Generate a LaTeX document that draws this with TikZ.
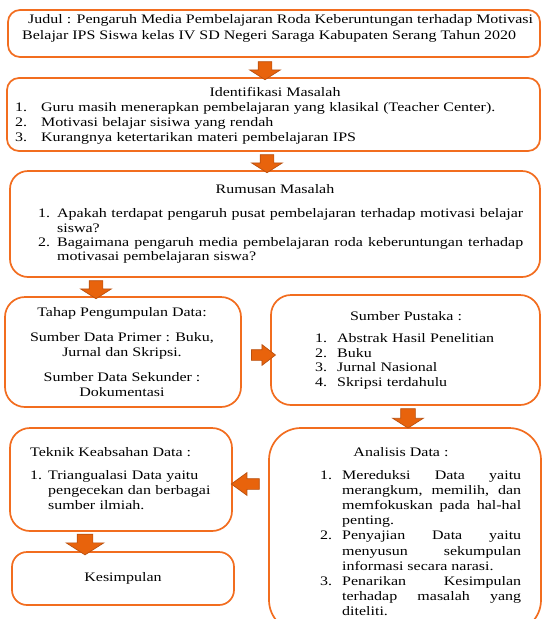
\documentclass[tikz,border=0pt]{standalone}
\usepackage{fontspec}
\setmainfont{Liberation Serif}[FakeStretch=1.23]
\usetikzlibrary{shapes.arrows}
\definecolor{boxline}{HTML}{F26D1F}
\definecolor{arrfill}{HTML}{E8630C}
\definecolor{arrline}{HTML}{B9500F}
\hyphenpenalty=10000
\exhyphenpenalty=10000
\newcommand\li[3]{\par\lineskip=0pt\noindent\makebox[#1][l]{\strut#2}%
  \parbox[t]{\dimexpr\hsize-#1\relax}{\strut#3\strut}\par}
\tikzset{
  box/.style={draw=boxline, line width=1.7pt, rounded corners=#1},
  box/.default=12pt,
  txt/.style={inner sep=0pt, font=\fontsize{13}{15}\selectfont},
  blockarr/.style={single arrow, fill=arrfill, draw=arrline, line width=0.7pt, inner sep=0pt},
  downarr/.style={blockarr, rotate=-90, minimum height=16pt, inner sep=6.5pt,
     single arrow head extend=8.5pt, single arrow tip angle=115},
}
\begin{document}
\begin{tikzpicture}[x=1pt,y=-1pt]
\clip (0,0) rectangle (543,619);
\fill[white] (0,0) rectangle (543,619);
% boxes
\draw[box] (8,10) rectangle (540,57);
\draw[box] (7,78) rectangle (540,151);
\draw[box=18pt] (10,171) rectangle (540,277);
\draw[box=20pt] (5,297) rectangle (241,407);
\draw[box=20pt] (271,295) rectangle (540,405);
\draw[box=32pt] (269,428) rectangle (541,632);
\draw[box=20pt] (10,428) rectangle (232,531);
\draw[box=15pt] (12,552) rectangle (234,605);
% arrows
\node[downarr] (a1) at (265,68.5) {};
\node[downarr] (a2) at (267,161.5) {};
\node[downarr] (a3) at (96,287.5) {};
\node[downarr, inner sep=7pt, single arrow head extend=8pt] (a5) at (408,416) {};
\node[downarr, inner sep=7.5pt, single arrow head extend=11pt] (a7) at (85,542) {};
\node[blockarr, minimum height=24pt, inner sep=5pt, single arrow head extend=5pt,
      single arrow tip angle=75] (a4) at (260,355) {};
\node[blockarr, rotate=180, minimum height=28pt, inner sep=5pt, single arrow head extend=6pt,
      single arrow tip angle=72] (a6) at (249,484) {};
% texts
\node[txt, anchor=north west, align=left, font=\fontsize{13}{16.5}\selectfont] (t1) at (22,14)
 {\hspace*{6pt}Judul : Pengaruh Media Pembelajaran Roda Keberuntungan terhadap Motivasi\\
  Belajar IPS Siswa kelas IV SD Negeri Saraga Kabupaten Serang Tahun 2020};
\node[txt, anchor=base] (t2) at (275,96) {Identifikasi Masalah};
\node[txt, anchor=north west, text width=520pt, align=left] (t2l) at (15,96.5)
 {\li{26pt}{1.}{Guru masih menerapkan pembelajaran yang klasikal (Teacher Center).}
  \li{26pt}{2.}{Motivasi belajar sisiwa yang rendah}
  \li{26pt}{3.}{Kurangnya ketertarikan materi pembelajaran IPS}};
\node[txt, anchor=base] (t3) at (275,193) {Rumusan Masalah};
\node[txt, anchor=north west, text width=485pt, align=justify, font=\fontsize{13}{14.2}\selectfont] (t3l) at (38,203.5)
 {\li{19pt}{1.}{Apakah terdapat pengaruh pusat pembelajaran terhadap motivasi belajar\linebreak siswa?}
  \li{19pt}{2.}{Bagaimana pengaruh media pembelajaran roda keberuntungan terhadap\linebreak motivasai pembelajaran siswa?}};
\node[txt, anchor=north, align=center] (t4) at (122,307)
 {Tahap Pengumpulan Data:\\[10pt]Sumber Data Primer : Buku,\\Jurnal dan Skripsi.\\[10pt]Sumber Data Sekunder :\\Dokumentasi};
\node[txt, anchor=base] (t5) at (406,320) {Sumber Pustaka :};
\node[txt, anchor=north west, text width=210pt, align=left, font=\fontsize{13}{14.5}\selectfont] (t5l) at (315,328)
 {\li{22pt}{1.}{Abstrak Hasil Penelitian}
  \li{22pt}{2.}{Buku}
  \li{22pt}{3.}{Jurnal Nasional}
  \li{22pt}{4.}{Skripsi terdahulu}};
\node[txt, anchor=base] (t6) at (401,456) {Analisis Data :};
\node[txt, anchor=north west, text width=201pt, align=justify, font=\fontsize{13}{15.2}\selectfont] (t6l) at (320,463.7)
 {\li{22pt}{1.}{Mereduksi Data yaitu\linebreak merangkum, memilih, dan\linebreak memfokuskan pada hal-hal\linebreak penting.}
  \li{22pt}{2.}{Penyajian Data yaitu\linebreak menyusun sekumpulan\linebreak informasi secara narasi.}
  \li{22pt}{3.}{Penarikan Kesimpulan\linebreak terhadap masalah yang\linebreak diteliti.}};
\node[txt, anchor=base west] (t7) at (30,456) {Teknik Keabsahan Data :};
\node[txt, anchor=north west, text width=195pt, align=left] (t7l) at (30,464)
 {\li{18pt}{1.}{Triangualasi Data yaitu\\ pengecekan dan berbagai\\ sumber ilmiah.}};
\node[txt, anchor=base] (t8) at (123,581) {Kesimpulan};
\end{tikzpicture}
\end{document}
